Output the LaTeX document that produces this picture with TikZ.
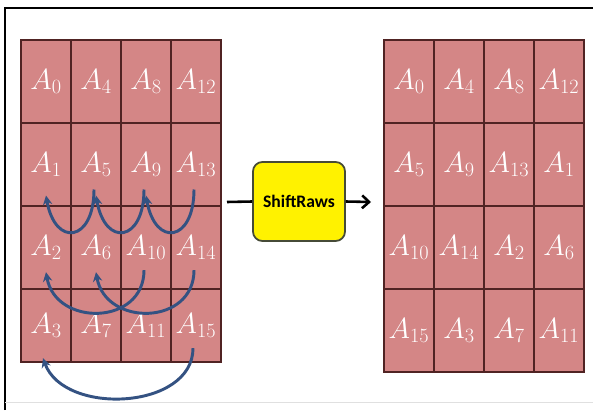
\documentclass[tikz,border=0pt]{standalone}
\usepackage{fontspec}
\newfontfamily\boxfont{Carlito}
\usetikzlibrary{arrows.meta,positioning}
\definecolor{cellred}{RGB}{212,134,134}
\definecolor{cellline}{RGB}{80,35,35}
\definecolor{arcblue}{RGB}{52,82,130}
\definecolor{boxline}{RGB}{70,75,55}
\tikzset{
  cell/.style={draw=cellline,line width=0.9pt,fill=cellred,minimum width=1.5cm,
    minimum height=2.49cm,inner sep=0pt,text=white,
    font=\fontsize{24}{29}\selectfont},
  shortcell/.style={cell,minimum height=2.19cm},
  opbox/.style={draw=boxline,line width=1.5pt,fill=yellow,rounded corners=8pt,
    minimum width=2.76cm,minimum height=2.37cm,
    font=\boxfont\bfseries\fontsize{15}{18}\selectfont},
  swap/.style={arcblue,line width=2.5pt,-{Stealth[length=8pt,width=8pt]}},
  flow/.style={line width=2.2pt},
}
\begin{document}
\begin{tikzpicture}[x=0.03cm,y=0.03cm]
  \useasboundingbox (0,0) rectangle (593,410);
  % frame
  \draw[line width=1.5pt] (5,0) -- (5,402) -- (593,402);
  \draw[black!12,line width=0.8pt] (5,8) -- (593,8);
  % state before
  \foreach \r/\y in {1/328.5,2/245.5,3/162.5}
    \foreach \c in {1,...,4}{
      \pgfmathtruncatemacro\idx{4*(\c-1)+\r-1}
      \node[cell] (L\r\c) at ({-4+50*\c},\y) {$A_{\idx}$};
    }
  \foreach \c in {1,...,4}{
    \pgfmathtruncatemacro\idx{4*(\c-1)+3}
    \node[shortcell] (L4\c) at ({-4+50*\c},84.5) {$A_{\idx}$};
  }
  % state after
  \foreach \r/\y in {1/328.5,2/245.5,3/162.5,4/79.5}
    \foreach \c in {1,...,4}{
      \pgfmathtruncatemacro\idx{4*mod(\c+\r-2,4)+\r-1}
      \node[cell] (R\r\c) at ({359+50*\c},\y) {$A_{\idx}$};
    }
  % operation
  \node[opbox] (shift) at (299,208.5) {ShiftRaws};
  \coordinate (src) at (227,208);
  \coordinate (dst) at (371,208);
  \draw[flow] (src) -- (shift.west);
  \draw[flow,-{Straight Barb[length=6pt,width=11pt]}] (shift.east) -- (dst);
  % row shifts
  \foreach \a/\b in {2/1,3/2,4/3}
    \draw[swap] ([xshift=-0.06cm,yshift=-0.75cm]L2\a.center)
      to[out=-90,in=-80,looseness=2.8] ([yshift=-0.93cm]L2\b.center);
  \foreach \a/\b in {3/1,4/2}
    \draw[swap] ([xshift=-0.06cm,yshift=-0.68cm]L3\a.center)
      to[out=-90,in=-80,looseness=1.45] ([yshift=-0.74cm]L3\b.center);
  \draw[swap] ([xshift=-0.09cm,yshift=-0.68cm]L44.center)
    to[out=-90,in=-70,looseness=1.05] ([xshift=-0.09cm,yshift=-0.98cm]L41.center);
\end{tikzpicture}
\end{document}
